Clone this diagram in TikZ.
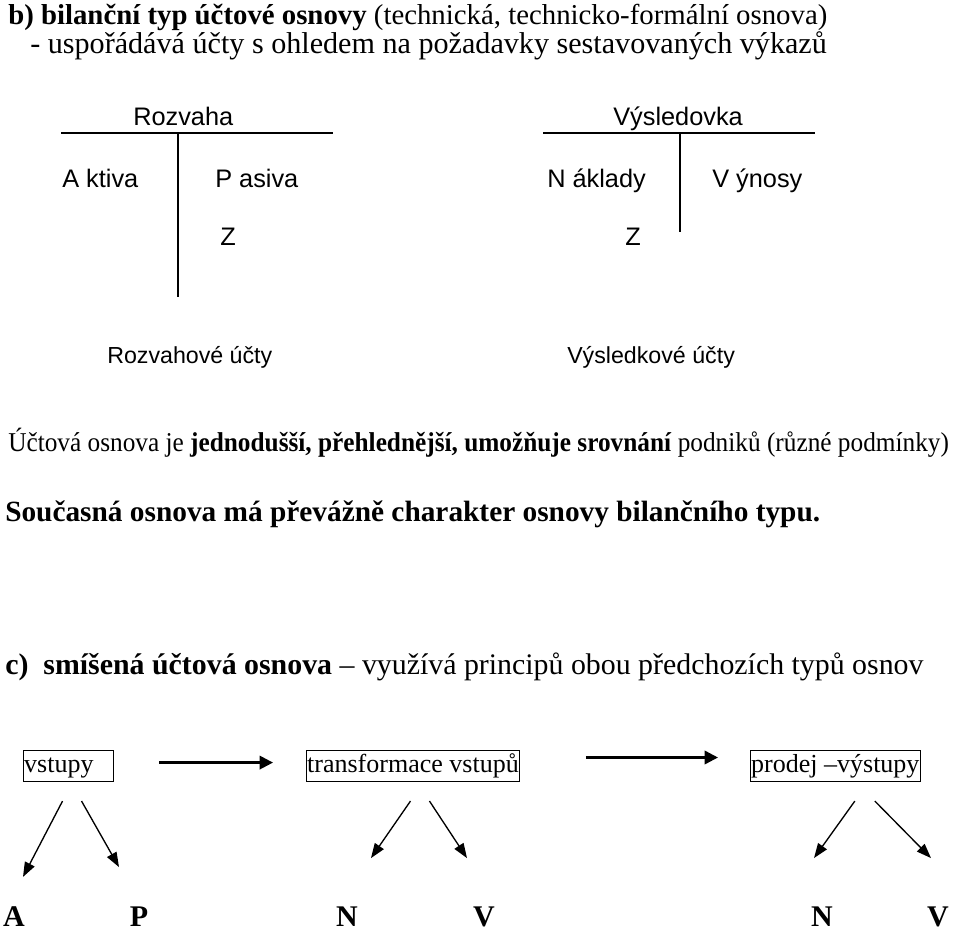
\documentclass[tikz,border=0pt]{standalone}
\usepackage{fontspec}
\setmainfont{Liberation Serif}
\setsansfont{Liberation Sans}
\usetikzlibrary{arrows.meta}
\tikzset{
	txt/.style={anchor=base west, inner sep=0pt, font=\fontsize{19.5}{23}\selectfont},
	sf/.style={anchor=base west, inner sep=0pt, font=\fontsize{19}{23}\sffamily},
	tline/.style={draw, line width=1.4pt},
	box/.style={draw, line width=0.8pt, anchor=north west, inner xsep=0.5pt, inner ysep=0pt,
		text height=16.5pt, text depth=6.75pt, align=left, font=\fontsize{19.5}{23}\selectfont},
	flow/.style={draw, line width=1.8pt, -{Triangle[length=10pt,width=10pt]}},
	split/.style={draw, line width=1pt, -{Triangle[length=11pt,width=8pt]}},
	letter/.style={anchor=base, inner sep=0pt, font=\fontsize{22.5}{25}\selectfont\bfseries}
}

\begin{document}
\begin{tikzpicture}[x=0.75pt, y=-0.75pt]
	\useasboundingbox (0,0) rectangle (960,931);
	\node[txt, font=\fontsize{21.6}{24}\selectfont] (title) at (8,25) {\textbf{b) bilanční typ účtové osnovy} (technická, technicko-formální osnova)};
	\node[txt, font=\fontsize{22.6}{24}\selectfont] (sub) at (30,54) {- uspořádává účty s ohledem na požadavky sestavovaných výkazů};

	\node[sf] (rozvaha) at (133,125) {Rozvaha};
	\node[sf] (aktiva) at (62,187) {A ktiva};
	\node[sf] (pasiva) at (215,187) {P asiva};
	\node[sf] (zr) at (220,245) {Z};
	\draw[tline] (61,133) -- (333,133);
	\draw[tline] (178,133) -- (178,297);

	\node[sf] (vysledovka) at (613,125) {Výsledovka};
	\node[sf] (naklady) at (547,187) {N áklady};
	\node[sf] (vynosy) at (712,187) {V ýnosy};
	\node[sf] (zv) at (625,245) {Z};
	\draw[tline] (543,133) -- (815,133);
	\draw[tline] (680,133) -- (680,232);

	\node[sf, font=\fontsize{17.4}{21}\sffamily] (ructy) at (107,363) {Rozvahové účty};
	\node[sf, font=\fontsize{17.4}{21}\sffamily] (vucty) at (567,363) {Výsledkové účty};

	\node[txt, font=\fontsize{20.4}{23}\selectfont] (osnova) at (8,451) {\scalebox{0.93}[1]{Účtová osnova je \textbf{jednodušší, přehlednější, umožňuje srovnání} podniků (různé podmínky)}};
	\node[txt, font=\fontsize{22}{25}\selectfont] (soucasna) at (5,521) {\textbf{Současná osnova má převážně charakter osnovy bilančního typu.}};

	\node[txt, font=\fontsize{22.4}{25}\selectfont] (smisena) at (5,674) {\textbf{c)\ \ smíšená účtová osnova} -- využívá principů obou předchozích typů osnov};

	\node[box, text width=66.5pt] (vstupy) at (23,750) {vstupy};
	\node[box] (transf) at (306,750) {transformace vstupů};
	\node[box] (prodej) at (750,750) {prodej --výstupy};

	\draw[flow, shorten <=33.75pt, shorten >=24.75pt] ([yshift=2.6pt]vstupy.east) -- ([yshift=2.6pt]transf.west);
	\draw[flow, shorten <=49.5pt, shorten >=24pt] ([yshift=6.4pt]transf.east) -- ([yshift=6.4pt]prodej.west);

	\node[letter] (a) at (14,926) {A};
	\node[letter] (p) at (139,926) {P};
	\node[letter] (n1) at (347,926) {N};
	\node[letter] (v1) at (484,926) {V};
	\node[letter] (n2) at (822,926) {N};
	\node[letter] (v2) at (938,926) {V};

	\draw[split] ([shift={(-6,19)}]vstupy.south) -- ([shift={(9,-29)}]a.north);
	\draw[split] ([shift={(13,19)}]vstupy.south) -- ([shift={(-20,-39)}]p.north);
	\draw[split] ([shift={(-2.5,19)}]transf.south) -- ([shift={(24,-48)}]n1.north);
	\draw[split] ([shift={(16.5,19)}]transf.south) -- ([shift={(-17,-48)}]v1.north);
	\draw[split] ([shift={(19.5,19)}]prodej.south) -- ([shift={(-8,-48)}]n2.north);
	\draw[split] ([shift={(39.5,19)}]prodej.south) -- ([shift={(-7,-48)}]v2.north);
\end{tikzpicture}
\end{document}
